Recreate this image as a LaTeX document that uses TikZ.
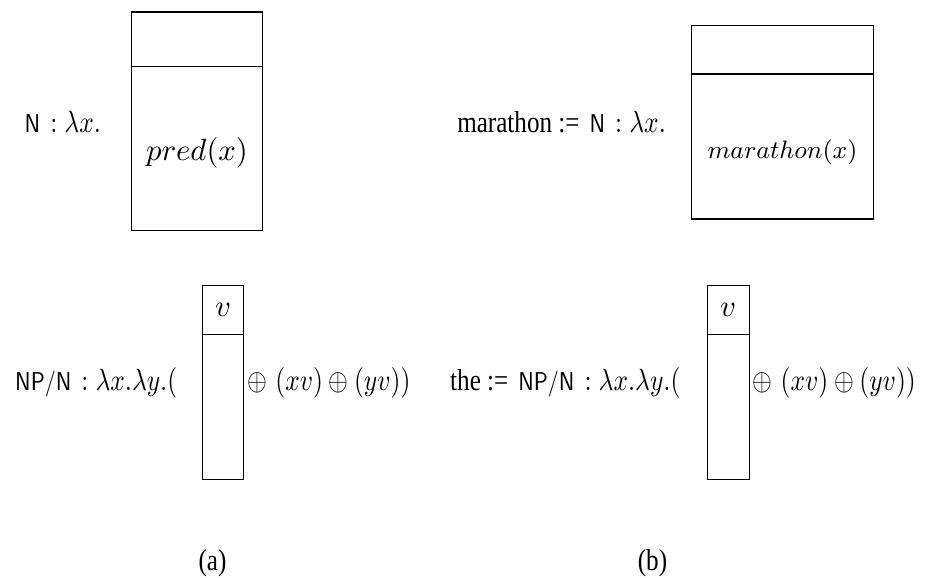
\documentclass[tikz,border=0pt]{standalone}
\usepackage{fontspec}
\usepackage{graphicx}
\usepackage{tikz}
\usetikzlibrary{positioning,calc}
\newfontfamily\tmsfont{Liberation Serif}
\newcommand{\sqz}[1]{\scalebox{0.83}[1]{#1}}
\newcommand{\cat}[1]{\sqz{\fontsize{9.2}{11}\selectfont\sffamily #1}}

\begin{document}
\begin{tikzpicture}[font=\fontsize{10.8}{13}\selectfont, inner sep=0pt,
	caja/.style={draw, inner sep=0pt},
	cabeza/.style={draw, inner sep=0pt, anchor=north}]
	\useasboundingbox (0,0) rectangle (11.606,-7.252);
	
	% Caja N (a)
	\node[caja, minimum width=1.644cm, minimum height=2.744cm] (fr1) at (2.472,-1.523) {};
	\node[cabeza, minimum width=1.644cm, minimum height=0.686cm] (hd1) at (fr1.north) {};
	\node[font=\fontsize{11.4}{13}\selectfont, yshift=-0.05cm] (pred) at ($(hd1.south)!0.5!(fr1.south)$) {$pred(x)$};
	\node[left=0.37cm of fr1] (lb1) {\cat{N} \sqz{$: \lambda x.$}};
	
	% Caja N (b)
	\node[caja, minimum width=2.279cm, minimum height=2.425cm] (fr2) at (9.818,-1.535) {};
	\node[cabeza, minimum width=2.279cm, minimum height=0.606cm] (hd2) at (fr2.north) {};
	\node[font=\fontsize{9.4}{11}\selectfont, yshift=-0.07cm] (mar) at ($(hd2.south)!0.5!(fr2.south)$) {$marathon(x)$};
	\node[left=0.31cm of fr2] (lb2) {\sqz{\tmsfont marathon :=} \cat{N} \sqz{$: \lambda x.$}};
	
	% Caja NP/N (a)
	\node[caja, minimum width=0.519cm, minimum height=2.429cm] (fr3) at (2.798,-4.799) {};
	\node[cabeza, minimum width=0.519cm, minimum height=0.61cm] (hd3) at (fr3.north) {$v$};
	\node[left=0.3cm of fr3] (lb3) {\cat{NP/N} \sqz{$: \lambda x.\lambda y.($}};
	\node[right=0.03cm of fr3] (tl3) {\sqz{$\oplus\ (xv) \oplus (yv))$}};
	
	% Caja NP/N (b)
	\node[caja, minimum width=0.523cm, minimum height=2.429cm] (fr4) at (9.137,-4.799) {};
	\node[cabeza, minimum width=0.523cm, minimum height=0.61cm] (hd4) at (fr4.north) {$v$};
	\node[left=0.324cm of fr4] (lb4) {\sqz{\tmsfont the :=} \cat{NP/N} \sqz{$: \lambda x.\lambda y.($}};
	\node[right=0.03cm of fr4] (tl4) {\sqz{$\oplus\ (xv) \oplus (yv))$}};
	
	% Subtitulos
	\node (capa) at (2.666,-7.064) {\sqz{\tmsfont (a)}};
	\node (capb) at (8.187,-7.064) {\sqz{\tmsfont (b)}};
\end{tikzpicture}
\end{document}
